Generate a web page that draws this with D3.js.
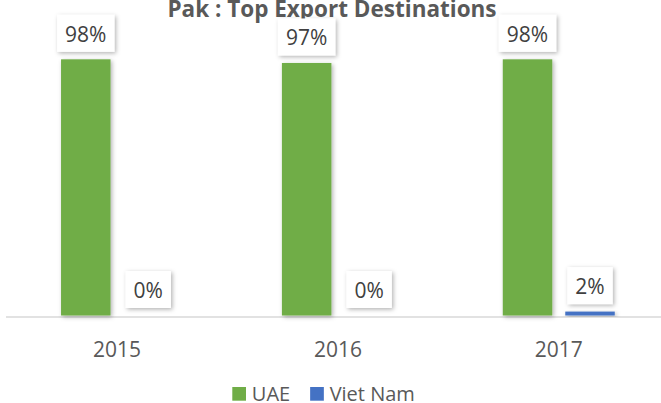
<!DOCTYPE html>
<html>
<head>
<meta charset="utf-8">
<script src="https://cdn.jsdelivr.net/npm/d3@7"></script>
<style>
  html, body { margin: 0; padding: 0; background: #fff; }
  svg { display: block; font-family: "Open Sans", sans-serif; }
</style>
</head>
<body>
<div id="chart"></div>
<script>
const years = ["2015", "2016", "2017"];
const seriesNames = ["UAE", "Viet Nam"];
const uae = [98.0, 96.6, 98.0];
const vietNam = [0, 0, 1.5];
const colors = ["#70AD47", "#4472C4"];
const title = "Pak : Top Export Destinations";

const W = 661, H = 403;
const svg = d3.select("#chart").append("svg")
    .attr("width", W)
    .attr("height", H);

// soft outer shadow like the office chart
const defs = svg.append("defs");
const f = defs.append("filter").attr("id", "shadow")
    .attr("x", "-30%").attr("y", "-30%").attr("width", "160%").attr("height", "160%");
f.append("feDropShadow")
    .attr("dx", 1.5).attr("dy", 1.5).attr("stdDeviation", 2)
    .attr("flood-color", "#000").attr("flood-opacity", 0.3);

const x0 = d3.scaleBand().domain(years).range([6.6, 669.2])
    .paddingInner(0.493).paddingOuter(0.2465);
const x1 = d3.scaleBand().domain(seriesNames).range([0, x0.bandwidth()])
    .paddingInner(0.208);
const y = d3.scaleLinear().domain([0, 100]).range([315.5, 54.1]);

const rows = years.map((yr, i) => ({year: yr, values: [uae[i], vietNam[i]]}));

// title
svg.append("text")
    .attr("x", 332).attr("y", 16.5)
    .attr("text-anchor", "middle")
    .attr("font-weight", "bold")
    .attr("font-size", "22.5px")
    .attr("fill", "#595959")
    .text(title);

// axis line
svg.append("line")
    .attr("x1", 6).attr("x2", W)
    .attr("y1", 317).attr("y2", 317)
    .attr("stroke", "#d9d9d9").attr("stroke-width", 1.5);

const groups = svg.selectAll(".grp").data(rows).join("g")
    .attr("class", "grp")
    .attr("transform", d => `translate(${x0(d.year)},0)`);

const cells = groups.selectAll(".cell")
    .data(d => d.values.map((v, k) => ({name: seriesNames[k], v: v, k: k})))
    .join("g").attr("class", "cell");

cells.filter(d => d.v > 0).append("rect")
    .attr("x", d => x1(d.name))
    .attr("width", x1.bandwidth())
    .attr("y", d => y(d.v))
    .attr("height", d => y(0) - y(d.v))
    .attr("fill", d => colors[d.k])
    .attr("filter", "url(#shadow)");

// data labels in boxes
cells.each(function(d) {
    const g = d3.select(this);
    const cx = x1(d.name) + x1.bandwidth() / 2;
    const bottom = y(d.v) - 7.5;
    const box = g.append("rect")
        .attr("fill", "#fff")
        .attr("filter", "url(#shadow)");
    const t = g.append("text")
        .attr("x", cx).attr("y", bottom - 10)
        .attr("text-anchor", "middle")
        .attr("font-size", "21px")
        .attr("fill", "#404040")
        .text(Math.round(d.v) + "%");
    const w = t.node().getComputedTextLength() + 16;
    box.attr("x", cx - w / 2).attr("y", bottom - 37)
        .attr("width", w).attr("height", 37);
});

// category labels
svg.selectAll(".xlab").data(years).join("text")
    .attr("class", "xlab")
    .attr("x", d => x0(d) + x0.bandwidth() / 2)
    .attr("y", 356.7)
    .attr("text-anchor", "middle")
    .attr("font-size", "21px")
    .attr("fill", "#595959")
    .text(d => d);

// legend
const legend = svg.append("g");
let lx = 232.3;
seriesNames.forEach((name, k) => {
    legend.append("rect")
        .attr("x", lx).attr("y", 387)
        .attr("width", 13.7).attr("height", 13.7)
        .attr("fill", colors[k]);
    const t = legend.append("text")
        .attr("x", lx + 19.5).attr("y", 400.7)
        .attr("font-size", "20px")
        .attr("fill", "#595959")
        .text(name);
    lx += 19.5 + t.node().getComputedTextLength() + 20;
});
</script>
</body>
</html>
